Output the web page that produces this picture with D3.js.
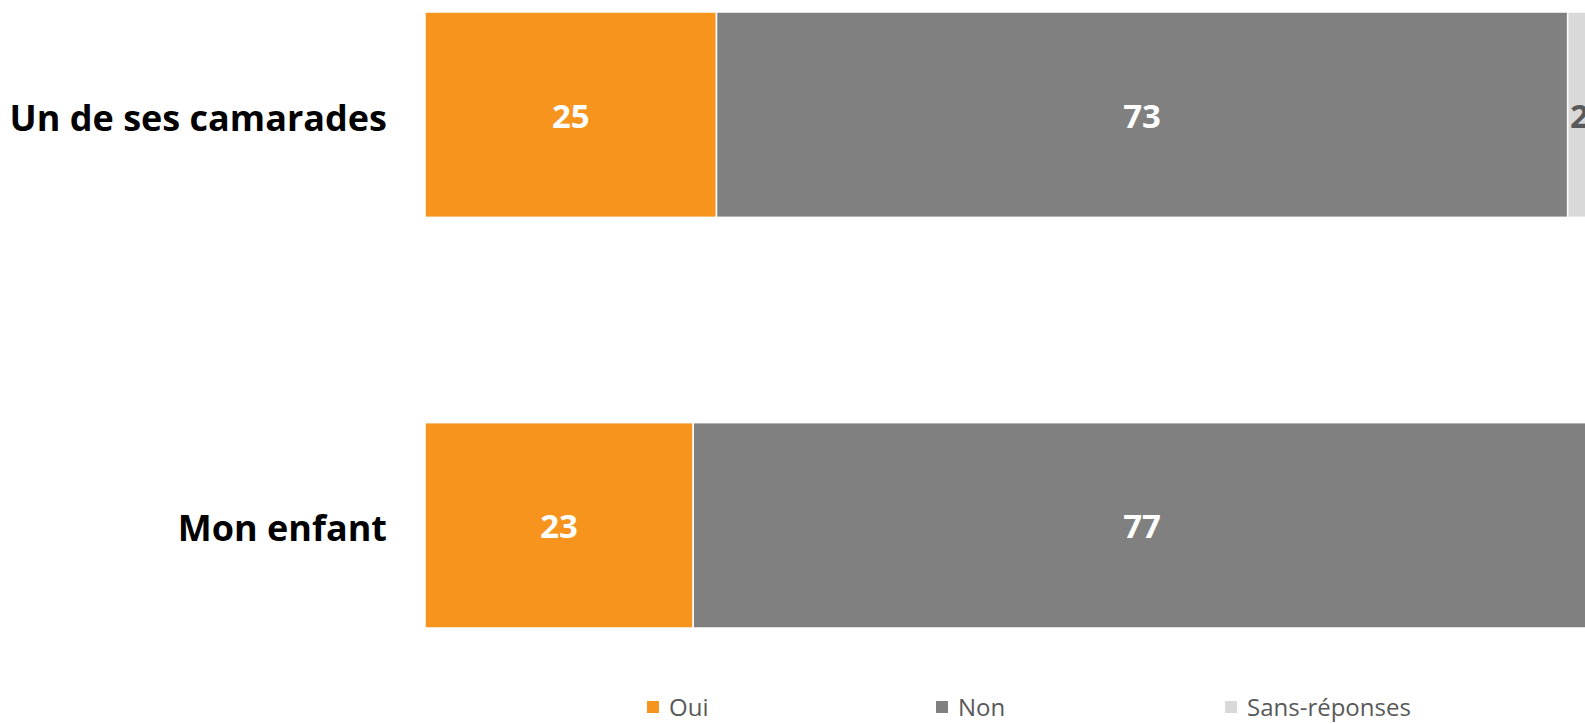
<!doctype html>
<html>
<head>
  <meta charset="utf-8">
  <style>
    body { margin: 0; background: #fff; overflow: hidden; }
    text { font-family: "Open Sans", "Noto Sans", sans-serif; }
  </style>
  <script src="https://d3js.org/d3.v7.min.js"></script>
</head>
<body>
<svg width="1585" height="724"></svg>
<script>
  // values (percent)
  var categories = ["Un de ses camarades", "Mon enfant"];
  var seriesNames = ["Oui", "Non", "Sans-réponses"];
  var oui = [25, 23];
  var non = [73, 77];
  var sansReponses = [2, 0];

  var colors = ["#F7941E", "#808080", "#D9D9D9"];
  var labelColors = ["#fff", "#fff", "#595959"];

  var svg = d3.select("svg");

  var rows = categories.map(function (c, i) {
    return { cat: c, "Oui": oui[i], "Non": non[i], "Sans-réponses": sansReponses[i] };
  });

  var stacked = d3.stack().keys(seriesNames)(rows);

  var x = d3.scaleLinear().domain([0, 100]).range([425, 1591]);
  var y = d3.scaleBand().domain(categories).range([12, 628]).paddingInner(0.5);

  var color = d3.scaleOrdinal().domain(seriesNames).range(colors);

  var layers = svg.selectAll(".layer")
    .data(stacked)
    .enter().append("g")
    .attr("class", "layer")
    .attr("fill", function (d) { return color(d.key); });

  layers.selectAll("rect")
    .data(function (d) { return d; })
    .enter().append("rect")
    .filter(function (d) { return d[1] - d[0] > 0; })
    .attr("x", function (d) { return x(d[0]); })
    .attr("y", function (d) { return y(d.data.cat); })
    .attr("width", function (d) { return x(d[1]) - x(d[0]); })
    .attr("height", y.bandwidth())
    .attr("stroke", "#fff")
    .attr("stroke-width", 1.5);

  // value labels
  stacked.forEach(function (layer, k) {
    svg.append("g").selectAll("text")
      .data(layer.filter(function (d) { return d[1] - d[0] > 0; }))
      .enter().append("text")
      .attr("x", function (d) { return (x(d[0]) + x(d[1])) / 2; })
      .attr("y", function (d) { return y(d.data.cat) + y.bandwidth() / 2 + 1; })
      .attr("dy", "0.36em")
      .attr("text-anchor", "middle")
      .attr("fill", labelColors[k])
      .style("font-size", "33px")
      .style("font-weight", "bold")
      .text(function (d) { return d[1] - d[0]; });
  });

  // category labels
  svg.append("g").selectAll("text")
    .data(categories)
    .enter().append("text")
    .attr("x", 387)
    .attr("y", function (d) { return y(d) + y.bandwidth() / 2 + 3; })
    .attr("dy", "0.36em")
    .attr("text-anchor", "end")
    .attr("fill", "#000")
    .style("font-size", "36px")
    .style("font-weight", "bold")
    .text(function (d) { return d; });

  // legend
  var lx = d3.scalePoint().domain(seriesNames).range([647, 1225]);
  var legend = svg.append("g").selectAll("g")
    .data(seriesNames)
    .enter().append("g")
    .attr("transform", function (d) { return "translate(" + lx(d) + ",701)"; });

  legend.append("rect")
    .attr("width", 12)
    .attr("height", 12)
    .attr("fill", function (d) { return color(d); });

  legend.append("text")
    .attr("x", 22)
    .attr("y", 6)
    .attr("dy", "0.36em")
    .attr("fill", "#595959")
    .style("font-size", "24px")
    .text(function (d) { return d; });
</script>
</body>
</html>
